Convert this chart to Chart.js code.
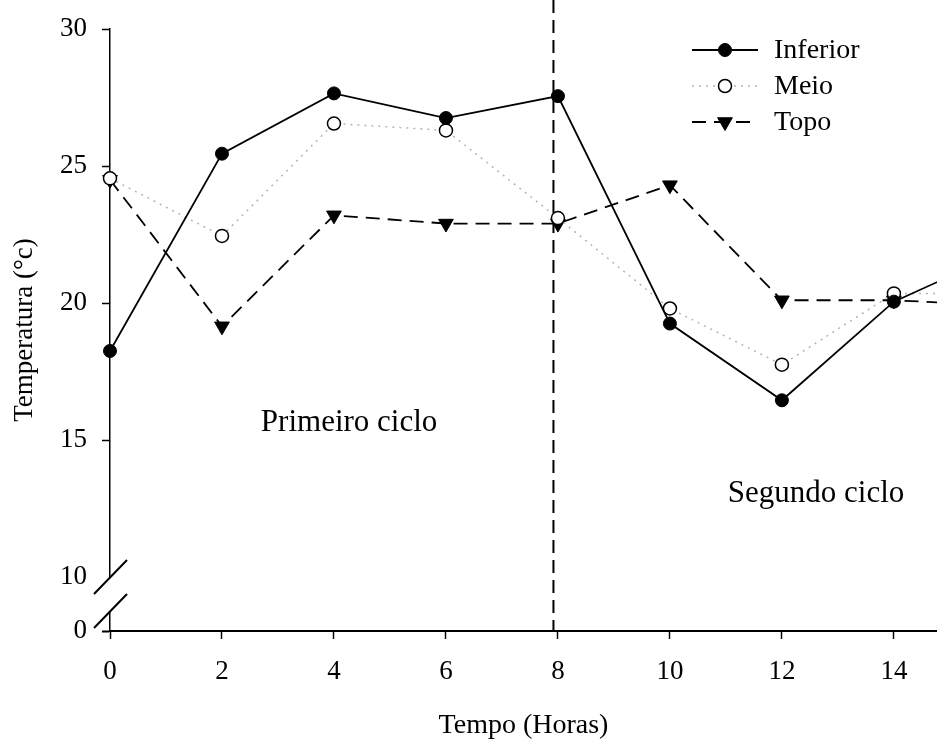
<!DOCTYPE html>
<html>
<head>
<meta charset="utf-8">
<script src="https://cdn.jsdelivr.net/npm/chart.js@4.4.1/dist/chart.umd.min.js"></script>
<style>
  html, body { margin: 0; padding: 0; background: #fff; }
  #wrap { position: relative; width: 937px; height: 742px; }
</style>
</head>
<body>
<div id="wrap"><canvas id="chart"></canvas></div>
<script>
// readings every 2 hours (the last one runs past the right edge)
const hours = [0, 2, 4, 6, 8, 10, 12, 14, 16];
const inferior = [18.25, 25.45, 27.65, 26.75, 27.55, 19.25, 16.45, 20.05, 21.9];
const meio = [24.55, 22.45, 26.55, 26.3, 23.1, 19.8, 17.75, 20.35, 20.35];
const topo = [24.5, 19.15, 23.2, 22.9, 22.9, 24.3, 20.1, 20.1, 19.9];

const xTickValues = [0, 2, 4, 6, 8, 10, 12, 14];
const yTickValues = [10, 15, 20, 25, 30];
const yBreakLabel = "0";

// boundary between the two cycles, and where their names sit (x, baseline y)
const cycleSplit = 7.92;
const cycleLabels = ["Primeiro ciclo", "Segundo ciclo"];
const cycleLabelPos = [[4.27, 15.33], [12.61, 12.74]];

const X_MAX = 14.77;
const Y_MIN = 8.03; // bottom of the broken axis, labelled "0"
const Y_MAX = 30;
const SERIF = '"Liberation Serif", "Times New Roman", serif';

Chart.defaults.font.family = SERIF;
Chart.defaults.color = "#000";

// markers overhang the plot edges; don't let them shrink the plot area
Chart.LineController.prototype.getMaxOverflow = function () { return 0; };

const toPoints = (ys) => hours.map((h, i) => ({ x: h, y: ys[i] }));

// dashed line separating the cycles
const cycleLine = {
  id: "cycleLine",
  beforeDatasetsDraw(chart) {
    const { ctx, scales: { x, y } } = chart;
    const px = x.getPixelForValue(cycleSplit);
    ctx.save();
    ctx.strokeStyle = "#000";
    ctx.lineWidth = 2;
    ctx.setLineDash([13, 7]);
    ctx.beginPath();
    ctx.moveTo(px, 0);
    ctx.lineTo(px, y.bottom);
    ctx.stroke();
    ctx.restore();
  },
};

// "Primeiro ciclo" / "Segundo ciclo"
const cycleText = {
  id: "cycleText",
  afterDatasetsDraw(chart) {
    const { ctx, scales: { x, y } } = chart;
    ctx.save();
    ctx.fillStyle = "#000";
    ctx.font = "31px " + SERIF;
    ctx.textAlign = "center";
    ctx.textBaseline = "alphabetic";
    cycleLabels.forEach((t, i) => {
      const [vx, vy] = cycleLabelPos[i];
      ctx.fillText(t, x.getPixelForValue(vx), y.getPixelForValue(vy));
    });
    ctx.restore();
  },
};

// break marks on the y axis between 0 and 10
const axisBreak = {
  id: "axisBreak",
  afterDraw(chart) {
    const { ctx, chartArea, scales: { y } } = chart;
    const ax = chartArea.left;
    const top = y.getPixelForValue(yTickValues[0]);
    const bot = top + 34;
    ctx.save();
    ctx.fillStyle = "#fff";
    ctx.fillRect(ax - 3, top, 6, bot - top);
    ctx.strokeStyle = "#000";
    ctx.lineWidth = 2;
    [top, bot].forEach((c) => {
      ctx.beginPath();
      ctx.moveTo(ax - 16, c + 17);
      ctx.lineTo(ax + 17, c - 17);
      ctx.stroke();
    });
    ctx.restore();
  },
};

// legend with line sample and marker centred on it
const sampleLegend = {
  id: "sampleLegend",
  afterDraw(chart) {
    const { ctx } = chart;
    chart.data.datasets.forEach((ds, i) => {
      const cy = 50 + i * 36;
      ctx.save();
      ctx.strokeStyle = ds.borderColor;
      ctx.lineWidth = ds.borderWidth;
      ctx.setLineDash(ds.borderDash || []);
      ctx.beginPath();
      ctx.moveTo(692, cy);
      ctx.lineTo(758, cy);
      ctx.stroke();
      ctx.setLineDash([]);
      ctx.fillStyle = ds.pointBackgroundColor;
      ctx.strokeStyle = ds.pointBorderColor;
      ctx.lineWidth = ds.pointBorderWidth;
      Chart.helpers.drawPoint(ctx, {
        pointStyle: ds.pointStyle,
        radius: ds.pointRadius,
        rotation: ds.pointRotation || 0,
        borderWidth: ds.pointBorderWidth,
      }, 725, cy);
      ctx.fillStyle = "#000";
      ctx.font = "28px " + SERIF;
      ctx.textAlign = "left";
      ctx.textBaseline = "middle";
      ctx.fillText(ds.label, 774, cy + 1);
      ctx.restore();
    });
  },
};

new Chart(document.getElementById("chart"), {
  type: "line",
  data: {
    datasets: [
      {
        label: "Inferior",
        data: toPoints(inferior),
        borderColor: "#000",
        borderWidth: 1.8,
        pointStyle: "circle",
        pointRadius: 6.5,
        pointBackgroundColor: "#000",
        pointBorderColor: "#000",
        pointBorderWidth: 1,
      },
      {
        label: "Meio",
        data: toPoints(meio),
        borderColor: "#b5b5b5",
        borderWidth: 1.5,
        borderDash: [2, 5],
        pointStyle: "circle",
        pointRadius: 6.5,
        pointBackgroundColor: "#fff",
        pointBorderColor: "#000",
        pointBorderWidth: 1.5,
      },
      {
        label: "Topo",
        data: toPoints(topo),
        borderColor: "#000",
        borderWidth: 1.8,
        borderDash: [14, 8],
        pointStyle: "triangle",
        pointRotation: 180,
        pointRadius: 8.5,
        pointBackgroundColor: "#000",
        pointBorderColor: "#000",
        pointBorderWidth: 1,
      },
    ],
  },
  options: {
    responsive: true,
    maintainAspectRatio: false,
    animation: false,
    events: [],
    layout: { padding: { top: 29, left: 0, right: 0, bottom: 0 } },
    elements: { line: { tension: 0 } },
    datasets: { line: { clip: false } },
    plugins: {
      legend: { display: false },
      tooltip: { enabled: false },
    },
    scales: {
      x: {
        type: "linear",
        min: 0,
        max: X_MAX,
        afterBuildTicks: (s) => { s.ticks = xTickValues.map((v) => ({ value: v })); },
        afterFit: (s) => {
          s.height = 111;
          s.paddingLeft = 0;
          s.paddingRight = 0;
        },
        border: { color: "#000", width: 2 },
        grid: { drawOnChartArea: false, tickLength: 8, tickColor: "#000", tickWidth: 1.5 },
        ticks: { font: { size: 27 }, color: "#000", padding: 17, maxRotation: 0, autoSkip: false },
        title: {
          display: true,
          text: "Tempo (Horas)",
          font: { size: 28 },
          color: "#000",
          padding: { top: 0, bottom: 0 },
        },
      },
      y: {
        type: "linear",
        min: Y_MIN,
        max: Y_MAX,
        afterBuildTicks: (s) => { s.ticks = [Y_MIN, ...yTickValues].map((v) => ({ value: v })); },
        afterFit: (s) => {
          s.width = 110;
          s.paddingTop = 0;
          s.paddingBottom = 0;
        },
        border: { color: "#000", width: 1.5 },
        grid: {
          drawOnChartArea: false,
          tickLength: 8,
          tickColor: (c) => (c.tick && c.tick.value === 10 ? "rgba(0,0,0,0)" : "#000"),
          tickWidth: (c) => (c.tick && c.tick.value === Y_MIN ? 2 : 1.5),
        },
        ticks: {
          font: { size: 27 },
          color: "#000",
          padding: 15,
          callback: (v) => (v === Y_MIN ? yBreakLabel : v),
        },
        title: {
          display: true,
          text: "Temperatura (°c)",
          font: { size: 27 },
          color: "#000",
          padding: { top: 9, bottom: 0 },
        },
      },
    },
  },
  plugins: [cycleLine, cycleText, axisBreak, sampleLegend],
});
</script>
</body>
</html>
